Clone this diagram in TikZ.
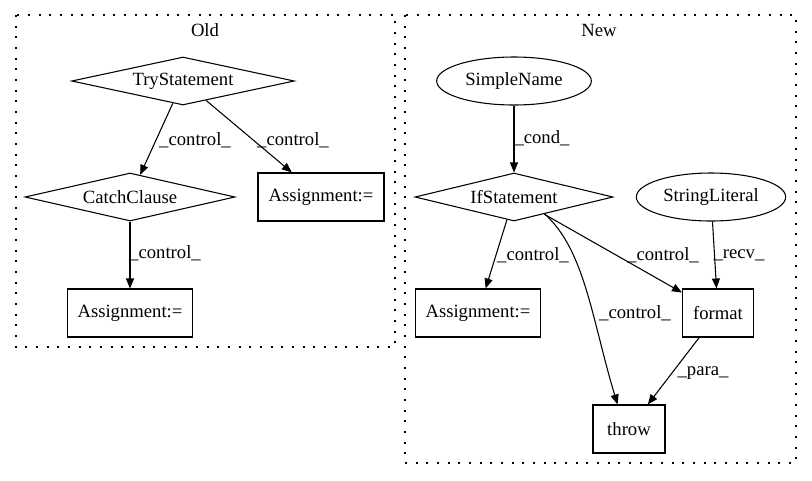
\documentclass[tikz,border=0pt]{standalone}
\usepackage{fontspec}
\setmainfont{Liberation Serif}
\usetikzlibrary{shapes.geometric,arrows.meta}
\tikzset{
 every node/.style={font=\fontsize{14pt}{16pt}\selectfont},
 cluster/.style={line width=0.8pt,dash pattern=on 1.5pt off 6.5pt},
 stmt/.style={draw,diamond,aspect=5,inner sep=0pt,minimum height=36pt,line width=0.8pt},
 leaf/.style={draw,ellipse,inner sep=0pt,minimum height=36pt,line width=0.8pt},
 box/.style={draw,rectangle,inner sep=0pt,minimum height=36pt,line width=0.8pt},
 edge/.style={line width=0.8pt,-{Triangle[length=7.5pt,width=6pt]}},
 lbl/.style={inner sep=0pt}
}
\begin{document}
\begin{tikzpicture}[x=0.75pt,y=-0.75pt]
 \useasboundingbox (0,0) rectangle (812,480);
 % clusters
 \draw[cluster] (16,15) rectangle (395,347);
 \draw[cluster] (405,15) rectangle (796,463);
 \node (oldtitle) at (205,30) {Old};
 \node (newtitle) at (599,30) {New};
 % old
 \node[stmt,minimum width=167pt] (trystmt) at (183,81) {TryStatement};
 \node[stmt,minimum width=157.5pt] (catchcl) at (130,197) {CatchClause};
 \node[box,minimum width=94.5pt] (oldassignb) at (321,197) {Assignment:=};
 \node[box,minimum width=94pt] (oldassigna) at (130,313) {Assignment:=};
 \draw[edge] (trystmt) -- (catchcl);
 \draw[edge] (trystmt) -- (oldassignb);
 \draw[edge] (catchcl) -- (oldassigna);
 \node[lbl] (l1) at (195,140) {\_control\_};
 \node[lbl] (l2) at (293,140) {\_control\_};
 \node[lbl] (l3) at (165,253) {\_control\_};
 % new
 \node[leaf,minimum width=116pt] (simplename) at (514,81) {SimpleName};
 \node[stmt,minimum width=148.5pt] (ifstmt) at (514,197) {IfStatement};
 \node[leaf,minimum width=112pt] (strlit) at (711,197) {StringLiteral};
 \node[box,minimum width=94pt] (newassign) at (478,313) {Assignment:=};
 \node[box,minimum width=53.25pt] (format) at (718,313) {format};
 \node[box,minimum width=54pt] (throw) at (629,429) {throw};
 \draw[edge] (simplename) -- (ifstmt);
 \draw[edge] (ifstmt) -- (newassign);
 \draw[edge] (ifstmt) -- (format);
 \draw[edge] (ifstmt.-29) .. controls (585,250) and (592,320) .. (throw.115);
 \draw[edge] (strlit) -- (format);
 \draw[edge] (format) -- (throw);
 \node[lbl] (l4) at (542,138) {\_cond\_};
 \node[lbl] (l5) at (533,255) {\_control\_};
 \node[lbl] (l6) at (663,255) {\_control\_};
 \node[lbl] (l7) at (739,255) {\_recv\_};
 \node[lbl] (l8) at (635,313) {\_control\_};
 \node[lbl] (l9) at (703,373) {\_para\_};
\end{tikzpicture}
\end{document}
